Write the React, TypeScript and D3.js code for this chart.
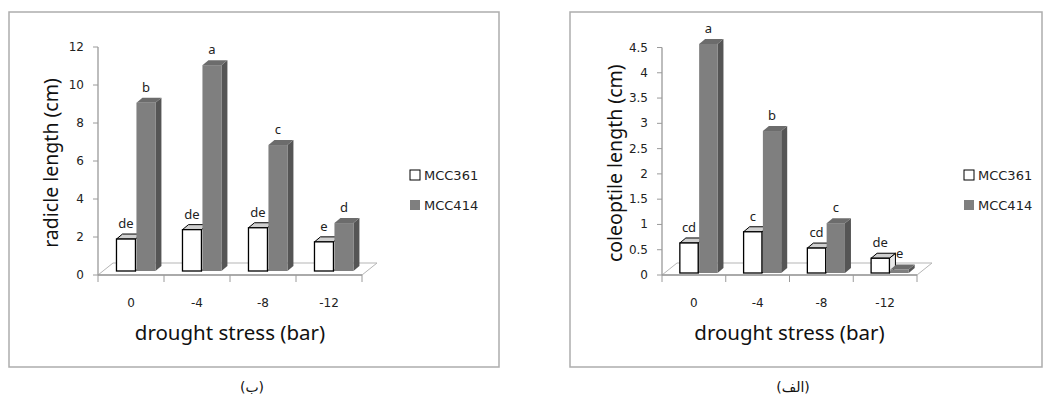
import React from "react";
import * as d3 from "d3";

const categories = ["0", "-4", "-8", "-12"];
const seriesNames = ["MCC361", "MCC414"];

// radicle (left panel)
const radicle361 = [1.7, 2.2, 2.3, 1.55];
const radicle414 = [8.95, 10.95, 6.7, 2.55];
const radicleLetters361 = ["de", "de", "de", "e"];
const radicleLetters414 = ["b", "a", "c", "d"];
const radicleTicks = [0, 2, 4, 6, 8, 10, 12];

// coleoptile (right panel)
const coleoptile361 = [0.59, 0.81, 0.49, 0.29];
const coleoptile414 = [4.5, 2.79, 0.98, 0.07];
const coleoptileLetters361 = ["cd", "c", "cd", "de"];
const coleoptileLetters414 = ["a", "b", "c", "e"];
const coleoptileTicks = [0, 0.5, 1, 1.5, 2, 2.5, 3, 3.5, 4, 4.5];

const DEPTH_X = 6;
const DEPTH_Y = 5;
const FLOOR_X = 15;
const FLOOR_Y = 12;

type PanelProps = {
  frame: { x: number; y: number; w: number; h: number };
  x0: number;
  x1: number;
  yMax: number;
  axisRange: [number, number];
  barRange: [number, number];
  ticks: number[];
  values: number[][];
  letters: string[][];
  yTitle: string;
  legendX: number;
  caption: string;
  captionX: number;
};

function Bar3D({ x, w, top, base, front, topFill, side }) {
  const h = base - top;
  const outline = front === "#ffffff" ? "#000" : "none";
  return (
    <g>
      <path
        d={`M${x + w},${top} L${x + w + DEPTH_X},${top - DEPTH_Y} L${x + w + DEPTH_X},${base - DEPTH_Y} L${x + w},${base} Z`}
        fill={side}
        stroke={outline}
        strokeWidth={1}
      />
      <path
        d={`M${x},${top} L${x + DEPTH_X},${top - DEPTH_Y} L${x + w + DEPTH_X},${top - DEPTH_Y} L${x + w},${top} Z`}
        fill={topFill}
        stroke={outline}
        strokeWidth={1}
      />
      <rect
        x={x}
        y={top}
        width={w}
        height={Math.max(h, 0)}
        fill={front}
        stroke={outline}
        strokeWidth={1.3}
      />
    </g>
  );
}

function Panel(p: PanelProps) {
  const yAxis = d3.scaleLinear().domain([0, p.yMax]).range(p.axisRange);
  const yBar = d3.scaleLinear().domain([0, p.yMax]).range(p.barRange);
  const xCat = d3.scaleBand().domain(categories).range([p.x0, p.x1]);
  const bw = xCat.bandwidth();
  const xSeries = d3
    .scaleBand()
    .domain(seriesNames)
    .range([bw * 0.28, bw * 0.87])
    .paddingInner(0.05);

  const base = yAxis(0);
  const styles = [
    { front: "#ffffff", top: "#cfcfcf", side: "#e8e8e8" },
    { front: "#7f7f7f", top: "#6c6c6c", side: "#555555" },
  ];

  const axisColor = "#9a9a9a";
  const labelFont = "'DejaVu Sans', Verdana, sans-serif";
  const titleFont = "'Noto Sans', 'Open Sans', sans-serif";

  return (
    <g>
      <rect
        x={p.frame.x}
        y={p.frame.y}
        width={p.frame.w}
        height={p.frame.h}
        fill="#fff"
        stroke="#adadad"
        strokeWidth={1.5}
      />

      {/* floor */}
      <path
        d={`M${p.x0},${base} L${p.x0 + FLOOR_X},${base - FLOOR_Y} L${p.x1 + FLOOR_X},${base - FLOOR_Y} L${p.x1},${base} Z`}
        fill="#fff"
        stroke="#b5b5b5"
        strokeWidth={1}
      />

      {/* y axis */}
      <line x1={p.x0} x2={p.x0} y1={yAxis(p.yMax)} y2={base} stroke={axisColor} strokeWidth={1.3} />
      {p.ticks.map((t) => (
        <g key={t}>
          <line x1={p.x0 - 5} x2={p.x0} y1={yAxis(t)} y2={yAxis(t)} stroke={axisColor} />
          <text
            x={p.x0 - 14}
            y={yAxis(t)}
            textAnchor="end"
            dominantBaseline="central"
            fontFamily={labelFont}
            fontSize={12}
            fill="#222"
          >
            {t}
          </text>
        </g>
      ))}

      {/* x axis */}
      <line x1={p.x0} x2={p.x1} y1={base} y2={base} stroke={axisColor} strokeWidth={1.3} />
      {categories.map((c) => (
        <line
          key={"t" + c}
          x1={xCat(c)}
          x2={xCat(c)}
          y1={base}
          y2={base + 7}
          stroke={axisColor}
        />
      ))}
      <line x1={p.x1} x2={p.x1} y1={base} y2={base + 7} stroke={axisColor} />
      {categories.map((c) => (
        <text
          key={"l" + c}
          x={xCat(c) + bw / 2}
          y={303}
          textAnchor="middle"
          dominantBaseline="central"
          fontFamily={labelFont}
          fontSize={12}
          fill="#222"
        >
          {c}
        </text>
      ))}

      {/* bars */}
      {categories.map((c, i) =>
        seriesNames.map((s, si) => {
          const x = xCat(c) + xSeries(s);
          const top = yBar(p.values[si][i]);
          return (
            <g key={c + s}>
              <Bar3D
                x={x}
                w={xSeries.bandwidth()}
                top={top}
                base={yBar(0)}
                front={styles[si].front}
                topFill={styles[si].top}
                side={styles[si].side}
              />
              <text
                x={x + xSeries.bandwidth() / 2}
                y={top - 11}
                textAnchor="middle"
                fontFamily={titleFont}
                fontSize={13}
                fill="#222"
              >
                {p.letters[si][i]}
              </text>
            </g>
          );
        })
      )}

      {/* titles */}
      <text
        x={(p.x0 + p.x1) / 2}
        y={332}
        textAnchor="middle"
        dominantBaseline="central"
        fontFamily={titleFont}
        fontSize={20.5}
        fill="#111"
      >
        drought stress (bar)
      </text>
      <text
        transform={`translate(${p.x0 - 48},${(yAxis(p.yMax) + base) / 2 + 2}) rotate(-90)`}
        textAnchor="middle"
        dominantBaseline="central"
        fontFamily={titleFont}
        fontSize={19.5}
        fill="#111"
      >
        {p.yTitle}
      </text>

      {/* legend */}
      {seriesNames.map((s, si) => (
        <g key={"lg" + s} transform={`translate(${p.legendX},${175 + si * 30})`}>
          <rect
            x={0}
            y={-5}
            width={10}
            height={10}
            fill={styles[si].front}
            stroke={si === 0 ? "#000" : "none"}
          />
          <text
            x={14}
            y={0}
            dominantBaseline="central"
            fontFamily={labelFont}
            fontSize={13}
            fill="#222"
          >
            {s}
          </text>
        </g>
      ))}

      <text
        x={p.captionX}
        y={387}
        textAnchor="middle"
        dominantBaseline="central"
        fontFamily="'DejaVu Sans', sans-serif"
        fontSize={14}
        fill="#111"
      >
        {p.caption}
      </text>
    </g>
  );
}

export default function App() {
  return (
    <svg
      width={1043}
      height={397}
      style={{ position: "absolute", left: 0, top: 0, background: "#fff" }}
    >
      <Panel
        frame={{ x: 9, y: 12, w: 490, h: 355 }}
        x0={98}
        x1={362}
        yMax={12}
        axisRange={[275, 47]}
        barRange={[271, 45.4]}
        ticks={radicleTicks}
        values={[radicle361, radicle414]}
        letters={[radicleLetters361, radicleLetters414]}
        yTitle="radicle length (cm)"
        legendX={410}
        caption="(ب)"
        captionX={252}
      />
      <Panel
        frame={{ x: 570, y: 12, w: 472, h: 355 }}
        x0={662}
        x1={917}
        yMax={4.5}
        axisRange={[275, 47.5]}
        barRange={[273, 44]}
        ticks={coleoptileTicks}
        values={[coleoptile361, coleoptile414]}
        letters={[coleoptileLetters361, coleoptileLetters414]}
        yTitle="coleoptile length (cm)"
        legendX={964}
        caption="(الف)"
        captionX={793}
      />
    </svg>
  );
}
